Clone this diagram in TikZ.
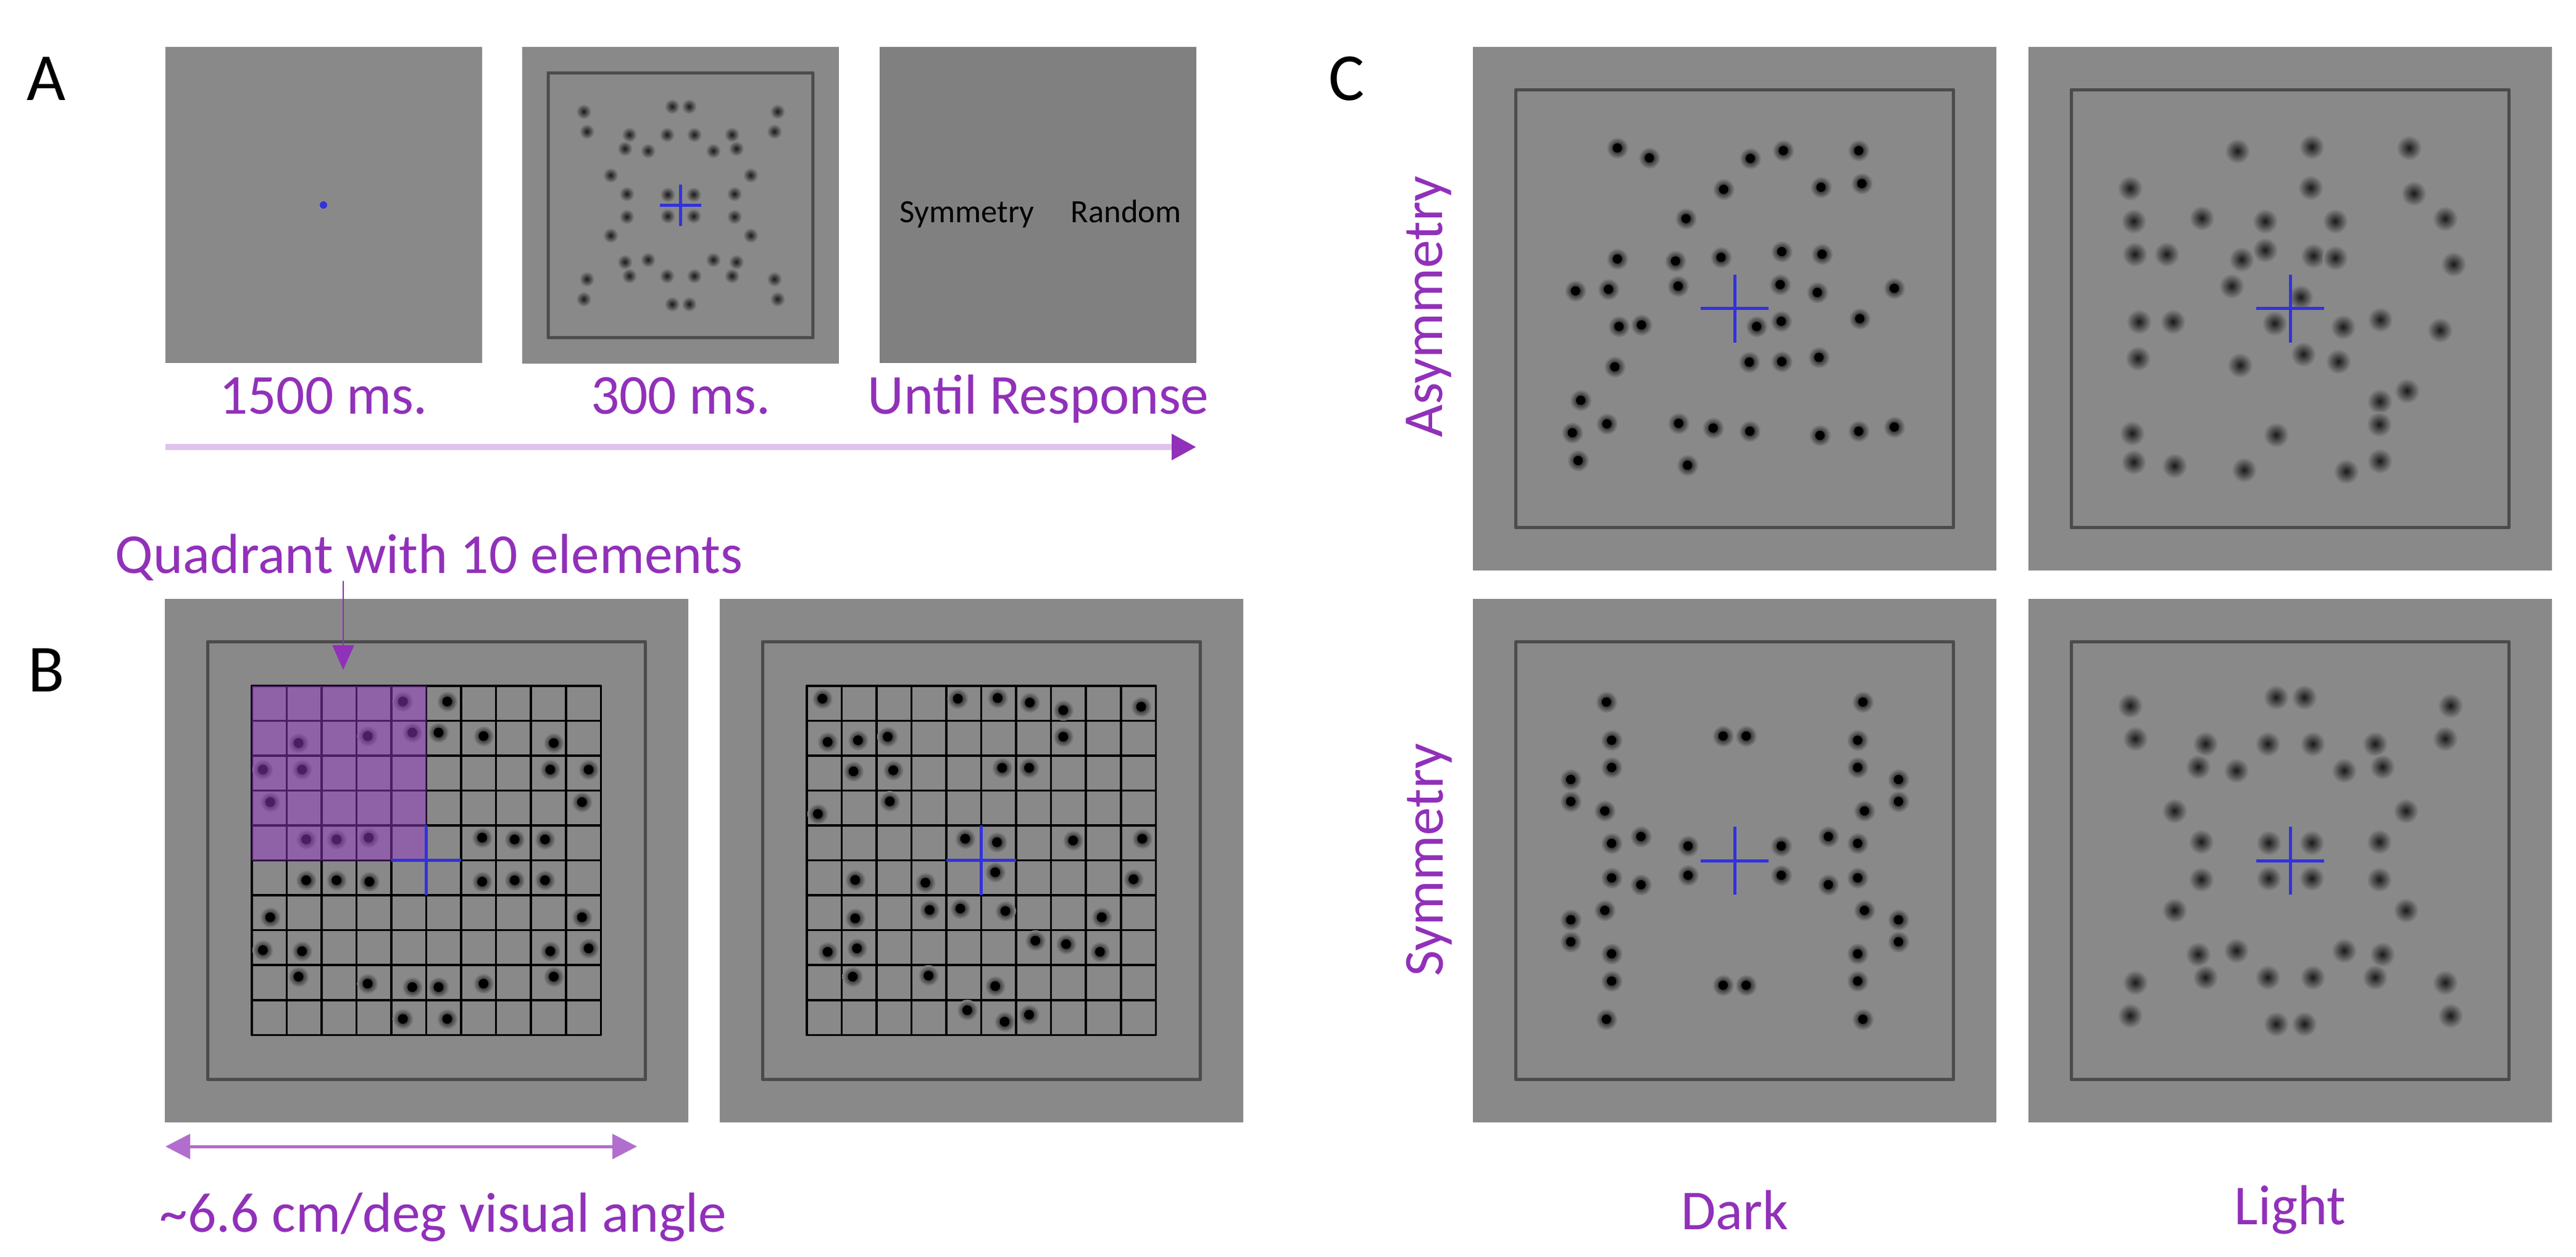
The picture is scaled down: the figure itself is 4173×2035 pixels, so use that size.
\documentclass[tikz,border=0pt]{standalone}
\usepackage{fontspec}
\setmainfont{Carlito}
\usetikzlibrary{arrows.meta,positioning}

\definecolor{stimgray}{RGB}{137,137,137}
\definecolor{respgray}{RGB}{128,128,128}
\definecolor{framegray}{RGB}{75,75,75}
\definecolor{crossblue}{RGB}{50,50,220}
\definecolor{labpurple}{RGB}{145,48,185}
\definecolor{timepurple}{RGB}{222,196,236}
\definecolor{quadpurple}{RGB}{150,60,200}

\tikzset{
  frame/.style={draw=framegray, line width=0.5mm, rounded corners=0.004},
  fixcross/.style={crossblue, line width=0.5mm},
  gridline/.style={black, line width=0.35mm, line cap=round},
  lab/.style={labpurple, font=\fontsize{26pt}{30pt}\selectfont, inner sep=0pt},
  panel/.style={black, font=\fontsize{31pt}{36pt}\selectfont, inner sep=0pt},
  choice/.style={black, font=\fontsize{15pt}{18pt}\selectfont, inner sep=0pt},
}

% stimulus pieces, drawn in a unit square
\newcommand\stimFrame{\fill[stimgray] (0,0) rectangle (1,1);
  \draw[frame] (0.082,0.082) rectangle (0.918,0.918);}
\newcommand\stimCross{\draw[fixcross] (0.435,0.5) -- (0.565,0.5) (0.5,0.435) -- (0.5,0.565);}
\newcommand\stimGrid{\foreach \k in {0,...,10} {\draw[gridline] (\k,0) -- (\k,10) (0,\k) -- (10,\k);}}
\newcommand\darkdot[1]{\shade[inner color=black, outer color=stimgray] (#1) circle (0.021);
  \fill[black] (#1) circle (0.009);}
\newcommand\lightdot[1]{\shade[inner color=black!90, outer color=stimgray] (#1) circle (0.024);}
\newcommand\griddot[1]{\shade[inner color=black, outer color=stimgray] (#1) circle (0.3);
  \fill[black] (#1) circle (0.14);}
\def\symLight{-.306/-.296,-.296/-.233,-.162/-.223,-.043/-.223,-.027/-.312,-.176/-.179,-.103/-.172,-.221/-.095,-.17/-.036,-.041/-.034}
\def\symDark{-.245/-.303,-.235/-.23,-.235/-.178,-.313/-.155,-.313/-.113,-.248/-.095,-.235/-.033,-.179/-.046,-.089/-.028,-.022/-.238}

\begin{document}
\begin{tikzpicture}[x=0.1mm, y=-0.1mm]
  \useasboundingbox (0,0) rectangle (4173,2035);

  % panel A
  \node[panel] (letA) at (75,128) {A};
  \fill[stimgray] (268,76) rectangle (781,588);
  \fill[crossblue] (524,332) circle (6);

  \begin{scope}[shift={(846,76)}, scale=513]
    \stimFrame
    \foreach \dx/\dy in \symLight {\foreach \sx in {-1,1} {\foreach \sy in {-1,1} {
      \lightdot{{0.5+\sx*\dx},{0.5+\sy*\dy}}}}}
    \stimCross
  \end{scope}

  \fill[respgray] (1425,76) rectangle (1938,588);
  \node[choice, anchor=base west] (symm) at (1457,360) {Symmetry};
  \node[choice, anchor=base west] (rand) at (1734,360) {Random};

  \node[lab, anchor=base] (t1) at (524,670) {1500 ms.};
  \node[lab, anchor=base] (t2) at (1103,670) {300 ms.};
  \node[lab, anchor=base] (t3) at (1682,670) {Until Response};
  \coordinate (tstart) at (268,724);
  \coordinate (tend) at (1938,724);
  \draw[timepurple, line width=1mm, -{Triangle[length=4mm, width=4mm, color=labpurple]}] (tstart) -- (tend);

  % panel B
  \node[panel] (letB) at (75,1086) {B};
  \begin{scope}[shift={(267,970)}, scale=848]
    \stimFrame
    \begin{scope}[shift={(0.166,0.166)}, scale=0.0667]
      \stimGrid
      \foreach \c/\r in {4.33/0.45,5.6/0.45,1.34/1.64,3.32/1.44,4.6/1.34,5.35/1.34,6.64/1.44,8.65/1.64,
        0.32/2.4,1.44/2.4,8.55/2.4,9.65/2.4,0.53/3.33,9.46/3.33,1.56/4.4,2.43/4.4,3.35/4.35,6.6/4.35,7.53/4.4,8.4/4.4,
        1.56/5.57,2.43/5.57,3.37/5.61,6.6/5.61,7.53/5.57,8.4/5.57,0.53/6.63,9.46/6.63,0.32/7.57,1.44/7.6,
        8.55/7.6,9.65/7.52,1.34/8.33,3.32/8.53,4.6/8.63,5.35/8.63,6.64/8.53,8.65/8.33,4.33/9.54,5.6/9.54}
        {\griddot{\c,\r}}
      \fill[quadpurple, opacity=0.5] (0,0) rectangle (5,5);
      \draw[fixcross] (4,5) -- (6,5) (5,4) -- (5,6);
    \end{scope}
  \end{scope}

  \begin{scope}[shift={(1166,970)}, scale=848]
    \stimFrame
    \begin{scope}[shift={(0.166,0.166)}, scale=0.0667]
      \stimGrid
      \foreach \c/\r in {0.45/0.37,4.33/0.37,5.47/0.35,6.39/0.48,7.35/0.7,9.58/0.6,0.6/1.61,1.47/1.56,2.32/1.46,7.35/1.46,
        1.34/2.45,2.48/2.42,5.6/2.35,6.37/2.35,0.32/3.67,2.38/3.31,4.54/4.38,5.45/4.48,7.63/4.43,9.61/4.38,
        1.39/5.56,3.4/5.64,5.4/5.34,9.36/5.54,1.39/6.66,3.52/6.42,4.4/6.38,5.69/6.45,8.45/6.63,0.6/7.62,
        1.44/7.52,6.55/7.3,7.43/7.4,8.4/7.62,1.32/8.33,3.49/8.3,5.4/8.6,4.6/9.29,5.67/9.62,6.37/9.42}
        {\griddot{\c,\r}}
      \draw[fixcross] (4,5) -- (6,5) (5,4) -- (5,6);
    \end{scope}
  \end{scope}

  \node[lab, anchor=base] (quad) at (695,928) {Quadrant with 10 elements};
  \coordinate (qend) at (556,1085);
  \draw[labpurple, line width=0.25mm, -{Triangle[length=4mm, width=3.5mm]}] (quad.south -| qend) -- (qend);

  \coordinate (wl) at (268,1857);
  \coordinate (wr) at (1032,1857);
  \draw[labpurple!70, line width=0.5mm, {Triangle[length=4mm, width=4mm]}-{Triangle[length=4mm, width=4mm]}] (wl) -- (wr);
  \node[lab] (width) at (718,1972) {\textasciitilde 6.6 cm/deg visual angle};

  % panel C
  \node[panel] (letC) at (2182,128) {C};
  \begin{scope}[shift={(2386,76)}, scale=848]
    \stimFrame
    \foreach \u/\v in {.276/.193,.337/.212,.53/.213,.593/.198,.737/.198,.479/.272,.665/.268,.743/.261,.407/.328,.276/.405,
      .387/.409,.474/.402,.59/.391,.667/.396,.196/.466,.259/.463,.392/.457,.587/.454,.658/.469,.805/.461,
      .279/.534,.322/.531,.542/.534,.589/.524,.739/.519,.271/.611,.528/.602,.59/.601,.661/.593,.206/.675,
      .256/.72,.19/.737,.393/.719,.459/.728,.529/.734,.663/.742,.737/.734,.805/.726,.201/.79,.41/.799}
      {\darkdot{\u,\v}}
    \stimCross
  \end{scope}

  \begin{scope}[shift={(3286,76)}, scale=848]
    \stimFrame
    \foreach \u/\v in {.399/.199,.541/.191,.727/.193,.194/.27,.539/.269,.736/.28,.201/.333,.331/.327,.452/.333,.586/.333,
      .796/.328,.203/.396,.264/.396,.407/.406,.452/.388,.544/.399,.586/.403,.812/.415,.388/.457,.52/.478,
      .211/.525,.276/.525,.47/.528,.601/.535,.672/.521,.786/.541,.209/.595,.404/.608,.525/.587,.592/.601,
      .723/.657,.671/.677,.67/.721,.198/.738,.473/.741,.201/.793,.279/.8,.412/.808,.607/.811,.671/.791}
      {\lightdot{\u,\v}}
    \stimCross
  \end{scope}

  \begin{scope}[shift={(2386,970)}, scale=848]
    \stimFrame
    \foreach \dx/\dy in \symDark {\foreach \sx in {-1,1} {\foreach \sy in {-1,1} {
      \darkdot{{0.5+\sx*\dx},{0.5+\sy*\dy}}}}}
    \stimCross
  \end{scope}

  \begin{scope}[shift={(3286,970)}, scale=848]
    \stimFrame
    \foreach \dx/\dy in \symLight {\foreach \sx in {-1,1} {\foreach \sy in {-1,1} {
      \lightdot{{0.5+\sx*\dx},{0.5+\sy*\dy}}}}}
    \stimCross
  \end{scope}

  \node[lab, rotate=90] (asym) at (2315,497) {Asymmetry};
  \node[lab, rotate=90] (sym) at (2315,1393) {Symmetry};
  \node[lab] (dark) at (2810,1960) {Dark};
  \node[lab] (light) at (3710,1960) {Light};
\end{tikzpicture}
\end{document}
